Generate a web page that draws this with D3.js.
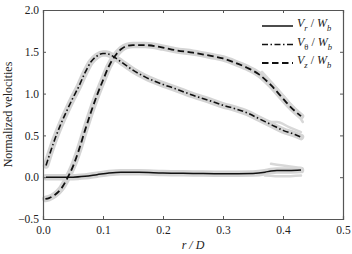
<!DOCTYPE html>
<html>
<head>
<meta charset="utf-8">
<script src="https://cdn.jsdelivr.net/npm/d3@7"></script>
<style>
  body { margin: 0; background: #fff; }
  text { font-family: "Liberation Serif", "Times New Roman", Times, serif; }
</style>
</head>
<body>
<svg id="chart"></svg>
<script>
var xTicks = [0.0, 0.1, 0.2, 0.3, 0.4, 0.5]
var yTicks = [-0.5, 0.0, 0.5, 1.0, 1.5, 2.0]

var rTheta = [0.005, 0.01, 0.02, 0.03, 0.04, 0.05, 0.06, 0.07, 0.08, 0.09, 0.10, 0.105, 0.11, 0.12, 0.13, 0.15, 0.17, 0.20, 0.22, 0.25, 0.28, 0.30, 0.32, 0.34, 0.36, 0.38, 0.40, 0.42, 0.43]
var vTheta = [0.14, 0.25, 0.46, 0.64, 0.80, 0.95, 1.09, 1.25, 1.38, 1.45, 1.48, 1.48, 1.47, 1.43, 1.38, 1.28, 1.20, 1.11, 1.06, 0.98, 0.91, 0.86, 0.82, 0.77, 0.70, 0.63, 0.56, 0.51, 0.48]

var rZ = [0.004, 0.01, 0.02, 0.03, 0.04, 0.05, 0.06, 0.07, 0.08, 0.09, 0.10, 0.11, 0.12, 0.13, 0.14, 0.15, 0.17, 0.20, 0.22, 0.25, 0.28, 0.30, 0.32, 0.34, 0.36, 0.38, 0.40, 0.41, 0.42, 0.43]
var vZ = [-0.26, -0.25, -0.21, -0.14, -0.02, 0.13, 0.33, 0.56, 0.78, 0.98, 1.16, 1.33, 1.45, 1.53, 1.57, 1.58, 1.58, 1.55, 1.52, 1.49, 1.45, 1.42, 1.37, 1.31, 1.23, 1.10, 0.94, 0.86, 0.79, 0.73]

var rR = [0.005, 0.03, 0.05, 0.07, 0.09, 0.11, 0.13, 0.16, 0.20, 0.25, 0.30, 0.35, 0.37, 0.38, 0.39, 0.41, 0.43]
var vR = [0.0, 0.0, 0.0, 0.01, 0.03, 0.05, 0.06, 0.06, 0.05, 0.045, 0.04, 0.045, 0.06, 0.075, 0.08, 0.08, 0.085]

// scattered grey runs near the outer wall
var rSpreadZ = [0.365, 0.38, 0.40, 0.42, 0.433]
var vSpreadZ = [1.26, 1.14, 0.98, 0.80, 0.66]
var rSpreadT = [0.375, 0.39, 0.41, 0.43]
var vSpreadT = [0.66, 0.66, 0.60, 0.54]
var rSpreadR = [0.38, 0.40, 0.43]
var vSpreadR = [0.16, 0.14, 0.11]
var rSpreadR2 = [0.37, 0.40, 0.43]
var vSpreadR2 = [0.02, 0.01, 0.02]

var W = 352, H = 254
var margin = {top: 10, right: 9, bottom: 35, left: 43}
var width = W - margin.left - margin.right
var height = H - margin.top - margin.bottom

var x = d3.scaleLinear().domain([0, 0.5]).range([0, width])
var y = d3.scaleLinear().domain([-0.5, 2.0]).range([height, 0])

var svg = d3.select("#chart")
    .attr("width", W)
    .attr("height", H)
  .append("g")
    .attr("transform", "translate(" + margin.left + "," + margin.top + ")")

var line = d3.line()
    .x(function(d){ return x(d[0]) })
    .y(function(d){ return y(d[1]) })
    .curve(d3.curveMonotoneX)

function pairs(rs, vs){ return rs.map(function(r, i){ return [r, vs[i]] }) }

var series = [
  {r: rR, v: vR, dash: null, w: 1.5},
  {r: rTheta, v: vTheta, dash: "6,2.5,1.5,2.5", w: 1.6},
  {r: rZ, v: vZ, dash: "6.5,3.5", w: 1.8}
]

// grey bands
svg.append("g").selectAll("path")
    .data(series)
    .enter()
    .append("path")
    .attr("d", function(d){ return line(pairs(d.r, d.v)) })
    .attr("fill", "none")
    .attr("stroke", "#d4d4d4")
    .attr("stroke-width", 6.5)
    .attr("stroke-linejoin", "round")
    .attr("stroke-linecap", "round")

var spreads = [[rSpreadZ, vSpreadZ], [rSpreadT, vSpreadT], [rSpreadR, vSpreadR], [rSpreadR2, vSpreadR2]]
svg.append("g").selectAll("path")
    .data(spreads)
    .enter()
    .append("path")
    .attr("d", function(d){ return line(pairs(d[0], d[1])) })
    .attr("fill", "none")
    .attr("stroke", "#d8d8d8")
    .attr("stroke-width", 2.5)
    .attr("stroke-linecap", "round")

// black curves
svg.append("g").selectAll("path")
    .data(series)
    .enter()
    .append("path")
    .attr("d", function(d){ return line(pairs(d.r, d.v)) })
    .attr("fill", "none")
    .attr("stroke", "#111")
    .attr("stroke-width", function(d){ return d.w })
    .attr("stroke-dasharray", function(d){ return d.dash })

// axes, ticks pointing in
var fmt = d3.format(".1f")
var ax = svg.append("g")
    .attr("transform", "translate(0," + height + ")")
    .call(d3.axisBottom(x).tickValues(xTicks).tickSize(-3).tickPadding(7).tickFormat(fmt))
var ay = svg.append("g")
    .call(d3.axisLeft(y).tickValues(yTicks).tickSize(-3).tickPadding(4).tickFormat(fmt))
var at = svg.append("g")
    .call(d3.axisTop(x).tickValues(xTicks).tickSize(-3).tickFormat(""))
var ar = svg.append("g")
    .attr("transform", "translate(" + width + ",0)")
    .call(d3.axisRight(y).tickValues(yTicks).tickSize(-3).tickFormat(""))

;[ax, ay, at, ar].forEach(function(g){
  g.attr("font-family", null)
  g.select(".domain").attr("stroke", "#555").attr("stroke-width", 1.2)
  g.selectAll(".tick line").attr("stroke", "#555")
  g.selectAll("text")
    .attr("font-size", "11.5px")
    .attr("fill", "#222")
})

// axis titles
svg.append("text")
    .attr("x", width / 2)
    .attr("y", height + 30)
    .attr("text-anchor", "middle")
    .attr("font-size", "12px")
    .attr("font-style", "italic")
    .attr("fill", "#222")
    .text("r / D")

svg.append("text")
    .attr("transform", "translate(" + (-31) + "," + (height / 2) + ") rotate(-90)")
    .attr("text-anchor", "middle")
    .attr("font-size", "12px")
    .attr("fill", "#222")
    .text("Normalized velocities")

// legend
var legendSubs = [["r", "italic"], ["θ", "normal"], ["z", "italic"]]
var lg = svg.append("g").attr("transform", "translate(" + (262 - margin.left) + "," + (26 - margin.top) + ")")
var rows = lg.selectAll("g")
    .data(series)
    .enter()
    .append("g")
    .attr("transform", function(d, i){ return "translate(0," + (i * 18.5) + ")" })

rows.append("line")
    .attr("x1", 0).attr("x2", 31)
    .attr("stroke", "#111")
    .attr("stroke-width", function(d){ return d.w })
    .attr("stroke-dasharray", function(d){ return d.dash })

var lt = rows.append("text")
    .attr("x", 35)
    .attr("y", 1)
    .attr("font-size", "12px")
    .attr("fill", "#222")
lt.append("tspan").attr("font-style", "italic").text("V")
lt.append("tspan")
    .attr("font-size", "8.5px")
    .attr("dy", 4)
    .attr("font-style", function(d, i){ return legendSubs[i][1] })
    .text(function(d, i){ return legendSubs[i][0] })
lt.append("tspan").attr("dy", -4).text(" / ")
lt.append("tspan").attr("font-style", "italic").text("W")
lt.append("tspan").attr("font-size", "8.5px").attr("dy", 4).attr("font-style", "italic").text("b")
</script>
</body>
</html>
